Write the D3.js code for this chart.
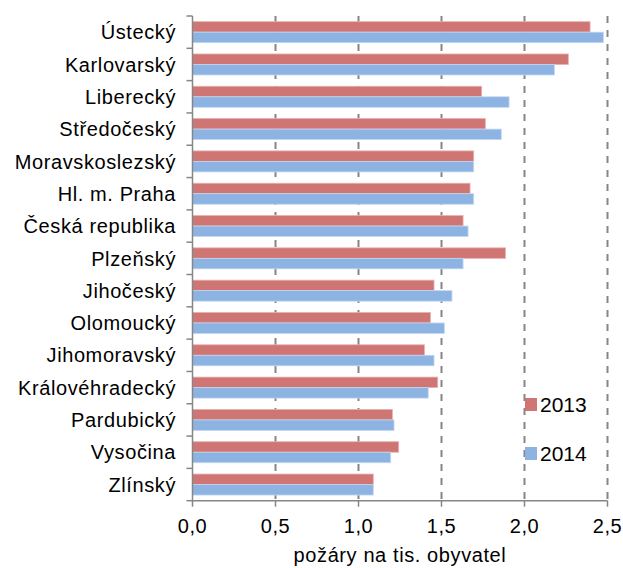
<!DOCTYPE html>
<html>
<head>
<meta charset="utf-8">
<script src="https://cdn.jsdelivr.net/npm/d3@7"></script>
<style>
  html, body { margin: 0; padding: 0; background: #fff; }
  svg { display: block; }
  text { font-family: Arial, "Liberation Sans", sans-serif; fill: #000; }
</style>
</head>
<body>
<script>
const categories = ["Ústecký", "Karlovarský", "Liberecký", "Středočeský", "Moravskoslezský",
  "Hl. m. Praha", "Česká republika", "Plzeňský", "Jihočeský", "Olomoucký",
  "Jihomoravský", "Královéhradecký", "Pardubický", "Vysočina", "Zlínský"];
const seriesNames = ["2013", "2014"];
const values2013 = [2.395, 2.264, 1.742, 1.764, 1.694, 1.672, 1.630, 1.885, 1.455, 1.433, 1.397, 1.477, 1.204, 1.242, 1.089];
const values2014 = [2.475, 2.180, 1.907, 1.860, 1.694, 1.694, 1.660, 1.630, 1.563, 1.517, 1.455, 1.420, 1.214, 1.194, 1.089];
const xTicks = [0, 0.5, 1.0, 1.5, 2.0, 2.5];
const axisTitle = "požáry na tis. obyvatel";
const colors = ["#CF7674", "#8DB3E2"];
const strokeColors = ["#E8B0AE", "#C3D7F0"];

const W = 623, H = 568;
const m = { left: 192.5, right: 15.5, top: 16, bottom: 67.3 };

const svg = d3.select("body").append("svg").attr("width", W).attr("height", H);

const x = d3.scaleLinear().domain([0, 2.5]).range([m.left, W - m.right]);
const y = d3.scaleBand().domain(categories).range([m.top, H - m.bottom])
  .paddingInner(0.35).paddingOuter(0.175);
const ys = d3.scaleBand().domain(seriesNames).range([0, y.bandwidth()]);

const axisColor = "#868686";

// gridlines
svg.append("g").selectAll("line").data(xTicks.filter(d => d > 0)).join("line")
  .attr("x1", d => x(d)).attr("x2", d => x(d))
  .attr("y1", m.top).attr("y2", H - m.bottom)
  .attr("stroke", axisColor).attr("stroke-width", 2).attr("stroke-dasharray", "7,7");

// bars
const data = categories.map((c, i) => ({ c, vals: [values2013[i], values2014[i]] }));
const groups = svg.append("g").selectAll("g").data(data).join("g")
  .attr("transform", d => `translate(0,${y(d.c)})`);
groups.selectAll("rect").data(d => d.vals.map((v, k) => ({ v, k }))).join("rect")
  .attr("x", x(0))
  .attr("y", d => ys(seriesNames[d.k]))
  .attr("width", d => x(d.v) - x(0))
  .attr("height", ys.bandwidth())
  .attr("fill", d => colors[d.k])
  .attr("stroke", d => strokeColors[d.k])
  .attr("stroke-width", 0.8);

// y axis
const step = y.step();
const yAxisG = svg.append("g");
yAxisG.append("line").attr("x1", x(0)).attr("x2", x(0)).attr("y1", m.top).attr("y2", H - m.bottom)
  .attr("stroke", axisColor).attr("stroke-width", 1.5);
const boundaries = d3.range(categories.length + 1).map(i => m.top + i * step);
yAxisG.selectAll("line.tk").data(boundaries).join("line").attr("class", "tk")
  .attr("x1", x(0) - 6).attr("x2", x(0)).attr("y1", d => d).attr("y2", d => d)
  .attr("stroke", axisColor).attr("stroke-width", 1.5);
yAxisG.selectAll("text").data(categories).join("text")
  .attr("x", 176).attr("y", d => y(d) + y.bandwidth() / 2)
  .attr("dy", "0.36em")
  .attr("text-anchor", "end")
  .attr("font-size", 20).attr("letter-spacing", "0.6px")
  .text(d => d);

// x axis
const xAxisG = svg.append("g").attr("transform", `translate(0,${H - m.bottom})`);
xAxisG.append("line").attr("x1", x(0)).attr("x2", x(2.5)).attr("stroke", axisColor).attr("stroke-width", 1.5);
xAxisG.selectAll("line.tk").data(xTicks).join("line").attr("class", "tk")
  .attr("x1", d => x(d)).attr("x2", d => x(d)).attr("y1", 0).attr("y2", 6)
  .attr("stroke", axisColor).attr("stroke-width", 1.5);
xAxisG.selectAll("text").data(xTicks).join("text")
  .attr("x", d => x(d)).attr("y", 32.5)
  .attr("text-anchor", "middle").attr("font-size", 20).attr("letter-spacing", "0.6px")
  .text(d => d3.format(".1f")(d).replace(".", ","));

svg.append("text").attr("x", 400).attr("y", 562)
  .attr("text-anchor", "middle").attr("font-size", 20).attr("letter-spacing", "0.6px")
  .text(axisTitle);

// legend
const leg = svg.append("g");
seriesNames.forEach((s, i) => {
  const ly = 398 + i * 49;
  leg.append("rect").attr("x", 525).attr("y", ly).attr("width", 12).attr("height", 13).attr("fill", colors[i]);
  leg.append("text").attr("x", 540).attr("y", ly + 13.5).attr("font-size", 21).text(s);
});
</script>
</body>
</html>
